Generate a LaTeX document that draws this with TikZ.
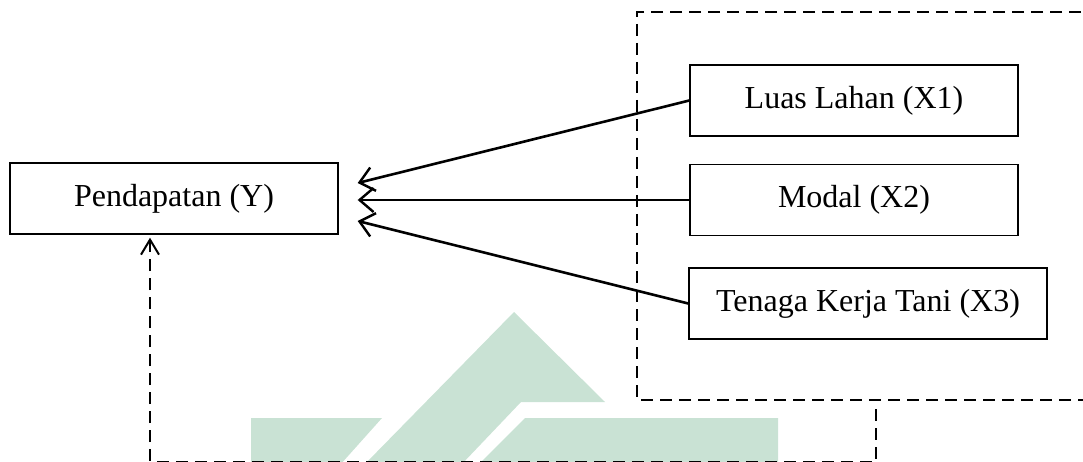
\documentclass[tikz,border=0pt]{standalone}
\usepackage{fontspec}
\setmainfont{Liberation Serif}
\usetikzlibrary{arrows.meta}
\definecolor{wmgreen}{RGB}{201,226,212}
\begin{document}
\begin{tikzpicture}[x=1pt,y=-1pt,
  box/.style={draw, line width=1.4pt, minimum width=328pt, minimum height=71pt,
    inner sep=0pt, font=\fontsize{32}{38}\selectfont},
  link/.style={line width=2.6pt, -{Straight Barb[length=14pt,width=24pt,line width=2.4pt]}},
  frame/.style={line width=2pt, dash pattern=on 12pt off 7pt},
]
\useasboundingbox (0,0) rectangle (1083,462);
\clip (0,0) rectangle (1083,462);

% faint logo in the background
\fill[wmgreen] (514,312) -- (605,402) -- (521,402) -- (461,465) -- (364,465) -- cycle;
\fill[wmgreen] (525,418) -- (778,418) -- (778,465) -- (478,465) -- cycle;
\fill[wmgreen] (251,418) -- (382,418) -- (340,465) -- (251,465) -- cycle;

% dashed frame around the independent variables
\draw[frame] (1100,12) -- (637,12) -- (637,400) -- (1100,400);

% variables
\node[box] (Y)  at (174,198.5) {Pendapatan (Y)};
\node[box] (X1) at (854,100.5) {Luas Lahan (X1)};
\node[box] (X2) at (854,200)   {Modal (X2)};
\node[box, minimum width=358pt] (X3) at (868,303.5) {Tenaga Kerja Tani (X3)};

% arrow ends beside the dependent variable
\coordinate (e1) at ([shift={(19,-15.5)}]Y.east);
\coordinate (e2) at ([shift={(19,1.5)}]Y.east);
\coordinate (e3) at ([shift={(19,22.5)}]Y.east);
\coordinate (fb)  at (876,409);
\coordinate (fbe) at ([shift={(-24,3)}]Y.south);

\draw[link] (X1.west) -- (e1);
\draw[link] (X2.west) -- (e2);
\draw[link] (X3.west) -- (e3);

% joint effect, dashed
\draw[frame, -{Straight Barb[length=15pt,width=18pt,line width=2pt]}]
  (fb) -- (876,461.5) -| (fbe);
\end{tikzpicture}
\end{document}
